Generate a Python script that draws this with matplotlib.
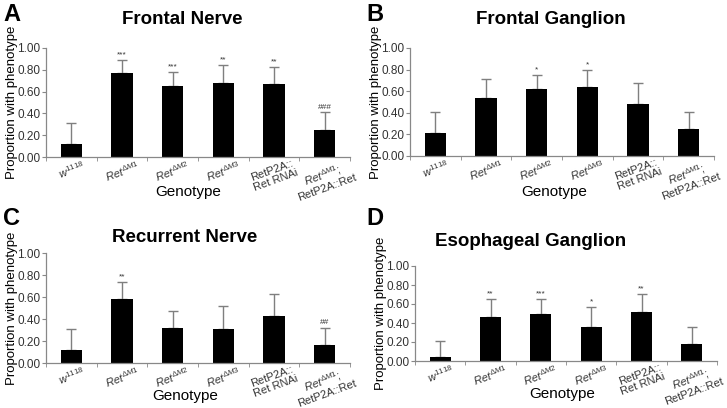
import matplotlib
matplotlib.use("Agg")
import matplotlib.pyplot as plt
import numpy as np

plt.rcParams['font.family'] = ['Liberation Sans', 'DejaVu Sans']
plt.rcParams['mathtext.fontset'] = 'custom'
plt.rcParams['mathtext.rm'] = 'Liberation Sans'
plt.rcParams['mathtext.it'] = 'Liberation Sans:italic'
plt.rcParams['mathtext.bf'] = 'Liberation Sans:bold'

categories = [r'$\mathit{w}^{\mathit{1118}}$',
              r'$\mathit{Ret}^{\mathit{\Delta M1}}$',
              r'$\mathit{Ret}^{\mathit{\Delta M2}}$',
              r'$\mathit{Ret}^{\mathit{\Delta M3}}$',
              'RetP2A::\nRet RNAi',
              r'$\mathit{Ret}^{\mathit{\Delta M1}}$;' + '\nRetP2A::Ret']

titles = ['Frontal Nerve', 'Frontal Ganglion', 'Recurrent Nerve', 'Esophageal Ganglion']
letters = ['A', 'B', 'C', 'D']

frontal_nerve = [0.12, 0.77, 0.65, 0.68, 0.67, 0.25]
frontal_nerve_err = [0.19, 0.12, 0.13, 0.16, 0.16, 0.16]
frontal_nerve_sig = ['', '***', '***', '**', '**', '###']

frontal_ganglion = [0.21, 0.54, 0.62, 0.64, 0.48, 0.25]
frontal_ganglion_err = [0.20, 0.17, 0.13, 0.16, 0.20, 0.16]
frontal_ganglion_sig = ['', '', '*', '*', '', '']

recurrent_nerve = [0.12, 0.58, 0.32, 0.31, 0.43, 0.16]
recurrent_nerve_err = [0.19, 0.16, 0.15, 0.21, 0.20, 0.16]
recurrent_nerve_sig = ['', '**', '', '', '', '##']

esophageal_ganglion = [0.04, 0.46, 0.50, 0.36, 0.52, 0.18]
esophageal_ganglion_err = [0.17, 0.19, 0.15, 0.21, 0.19, 0.18]
esophageal_ganglion_sig = ['', '**', '***', '*', '**', '']

yticks = [0.0, 0.2, 0.4, 0.6, 0.8, 1.0]

data = [(frontal_nerve, frontal_nerve_err, frontal_nerve_sig),
        (frontal_ganglion, frontal_ganglion_err, frontal_ganglion_sig),
        (recurrent_nerve, recurrent_nerve_err, recurrent_nerve_sig),
        (esophageal_ganglion, esophageal_ganglion_err, esophageal_ganglion_sig)]

W, H = 727, 408
fig = plt.figure(figsize=(W / 100, H / 100), dpi=100)

# axes boxes in pixels: (left, right, top, bottom)
boxes = [(46, 350, 48, 157), (410, 714, 48, 156), (46, 350, 253, 363), (415, 717, 266, 361)]
letter_pos = [(3, 3), (366, 3), (3, 207), (366, 207)]
title_xy = [(182, 20), (551, 20), (185, 237), (531, 241)]
xlabel_xy = [(188, 192), (554, 192), (185, 396), (562, 394)]
ylabel_x = [12, 376, 12, 381]

axis_col = '#888888'
for i, ((vals, errs, sig), box) in enumerate(zip(data, boxes)):
    l, r, t, b = box
    ax = fig.add_axes([l / W, 1 - b / H, (r - l) / W, (b - t) / H])
    x = np.arange(len(vals))
    ax.bar(x, vals, width=0.42, color='black', zorder=2)
    ax.errorbar(x, vals, yerr=[np.zeros(len(vals)), errs], fmt='none',
                ecolor='#7f7f7f', elinewidth=1.0, capsize=3.5, capthick=1.0, zorder=1)
    for xi, v, e, s in zip(x, vals, errs, sig):
        if s:
            ax.text(xi, v + e + 0.015, s, ha='center', va='bottom', fontsize=6, color='#333333')
    ax.set_xlim(-0.5, 5.5)
    ax.set_ylim(0, 1.0)
    ax.set_yticks(yticks)
    ax.set_yticklabels([f'{v:.2f}' for v in yticks], fontsize=8.5, color='#333333')
    ax.set_xticks(x)
    ax.set_xticklabels(categories, rotation=20, ha='center', va='top',
                       multialignment='center',
                       fontsize=8, color='#333333', linespacing=1.0)
    ax.tick_params(axis='x', length=0, pad=1)
    ax.set_xticks(np.arange(-0.5, 6.0, 1.0), minor=True)
    ax.tick_params(axis='x', which='minor', length=3, color=axis_col)
    ax.tick_params(axis='y', length=3, color=axis_col, pad=1)
    for s in ['top', 'right']:
        ax.spines[s].set_visible(False)
    for s in ['left', 'bottom']:
        ax.spines[s].set_color(axis_col)
        ax.spines[s].set_linewidth(0.9)
    # y label
    fig.text(ylabel_x[i] / W, 1 - ((t + b) / 2) / H, 'Proportion with phenotype',
             rotation=90, ha='center', va='center', fontsize=9.5)
    fig.text(xlabel_xy[i][0] / W, 1 - xlabel_xy[i][1] / H, 'Genotype',
             ha='center', va='center', fontsize=11)
    fig.text(title_xy[i][0] / W, 1 - title_xy[i][1] / H, titles[i], ha='center', va='center',
             fontsize=13.5, fontweight='bold')
    lx, ly = letter_pos[i]
    fig.text(lx / W, 1 - ly / H, letters[i], ha='left', va='top',
             fontsize=17, fontweight='bold')

fig.savefig('out.png', dpi=100)
